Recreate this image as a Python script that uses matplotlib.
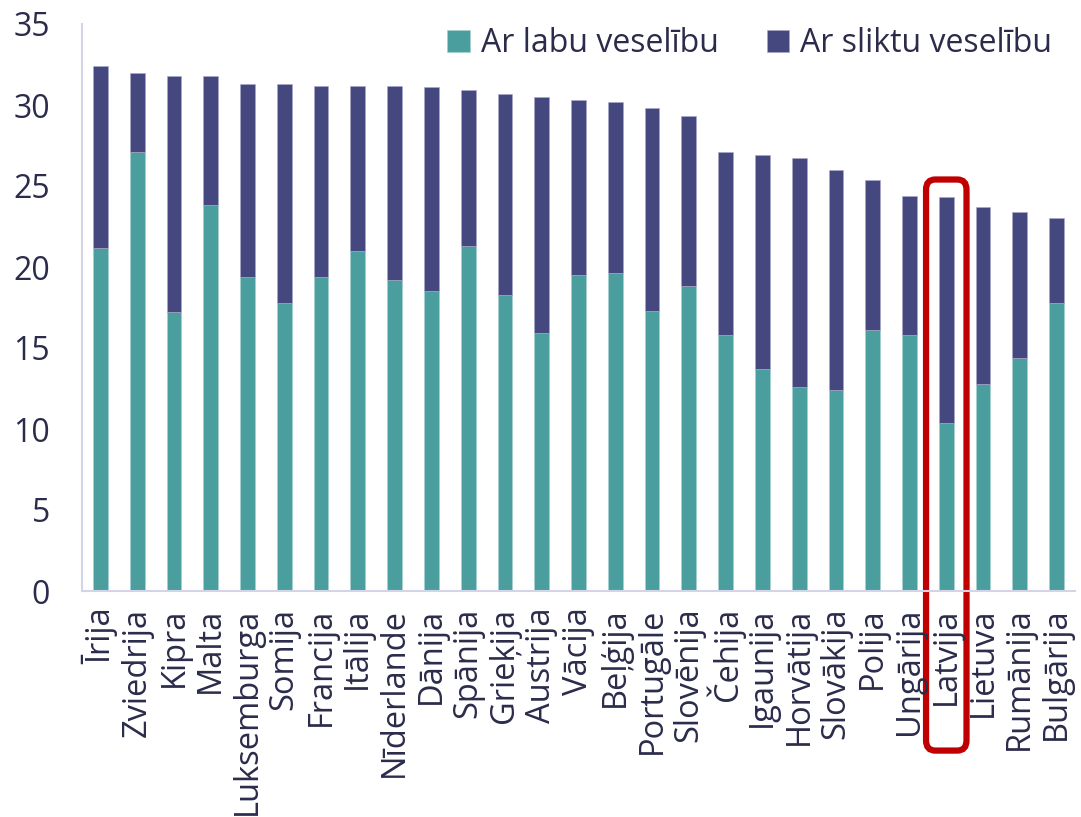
import matplotlib.pyplot as plt
from matplotlib.patches import FancyBboxPatch

plt.rcParams["font.family"] = ["Open Sans", "DejaVu Sans"]

countries = [
    "Īrija", "Zviedrija", "Kipra", "Malta", "Luksemburga", "Somija", "Francija",
    "Itālija", "Nīderlande", "Dānija", "Spānija", "Grieķija", "Austrija", "Vācija",
    "Beļģija", "Portugāle", "Slovēnija", "Čehija", "Igaunija", "Horvātija",
    "Slovākija", "Polija", "Ungārija", "Latvija", "Lietuva", "Rumānija", "Bulgārija",
]
good_health = [
    21.2, 27.1, 17.2, 23.8, 19.4, 17.8, 19.4, 21.0, 19.2, 18.5, 21.3, 18.3, 15.9, 19.5,
    19.6, 17.3, 18.8, 15.8, 13.7, 12.6, 12.4, 16.1, 15.8, 10.4, 12.8, 14.4, 17.8,
]
total = [
    32.4, 32.0, 31.8, 31.8, 31.3, 31.3, 31.2, 31.2, 31.2, 31.1, 30.9, 30.7, 30.5, 30.3,
    30.2, 29.8, 29.3, 27.1, 26.9, 26.7, 26.0, 25.4, 24.4, 24.3, 23.7, 23.4, 23.0,
]
poor_health = [round(t - g, 1) for t, g in zip(total, good_health)]
highlight = "Latvija"

GREEN = "#4a9e9e"
NAVY = "#45487e"
TEXT = "#2b2b4b"
AXIS = "#d4d4e8"

fig = plt.figure(figsize=(10.81, 8.17), dpi=100)
ax = fig.add_axes([82 / 1081, 1 - 591 / 817, 993 / 1081, 567 / 817])

x = range(len(countries))
ax.bar(x, good_health, width=0.4, color=GREEN, edgecolor="#a8d0d0", linewidth=0.4,
       label="Ar labu veselību")
ax.bar(x, poor_health, bottom=good_health, width=0.4, color=NAVY, edgecolor="#a9aacb",
       linewidth=0.4, label="Ar sliktu veselību")

ax.set_xlim(-0.5, len(countries) - 0.5)
ax.set_ylim(0, 35)
ax.set_yticks(range(0, 36, 5))
ax.set_xticks(list(x))
ax.set_xticklabels(countries, rotation=90, fontsize=23.5, color=TEXT)
ax.tick_params(axis="y", length=0, pad=23, labelsize=23, labelcolor=TEXT)
ax.tick_params(axis="x", length=0, pad=12)
for lbl in ax.get_yticklabels():
    lbl.set_horizontalalignment("right")

for side in ("top", "right"):
    ax.spines[side].set_visible(False)
for side in ("left", "bottom"):
    ax.spines[side].set_color(AXIS)
    ax.spines[side].set_linewidth(1.5)

# red frame round the highlighted country
i = countries.index(highlight)
box = FancyBboxPatch((i - 0.55, -9.85), 1.1, total[i] + 10.95,
                     boxstyle="round,pad=0,rounding_size=0.25",
                     mutation_aspect=2.5,
                     fill=False, edgecolor="#c00000", linewidth=4.5, clip_on=False)
ax.add_patch(box)

ax.legend(loc="upper right", bbox_to_anchor=(1.006, 1.045), ncol=2, frameon=False,
          fontsize=23, labelcolor=TEXT, handlelength=0.7, handleheight=0.7,
          handletextpad=0.35, columnspacing=1.5)

fig.savefig("out.png", dpi=100)
